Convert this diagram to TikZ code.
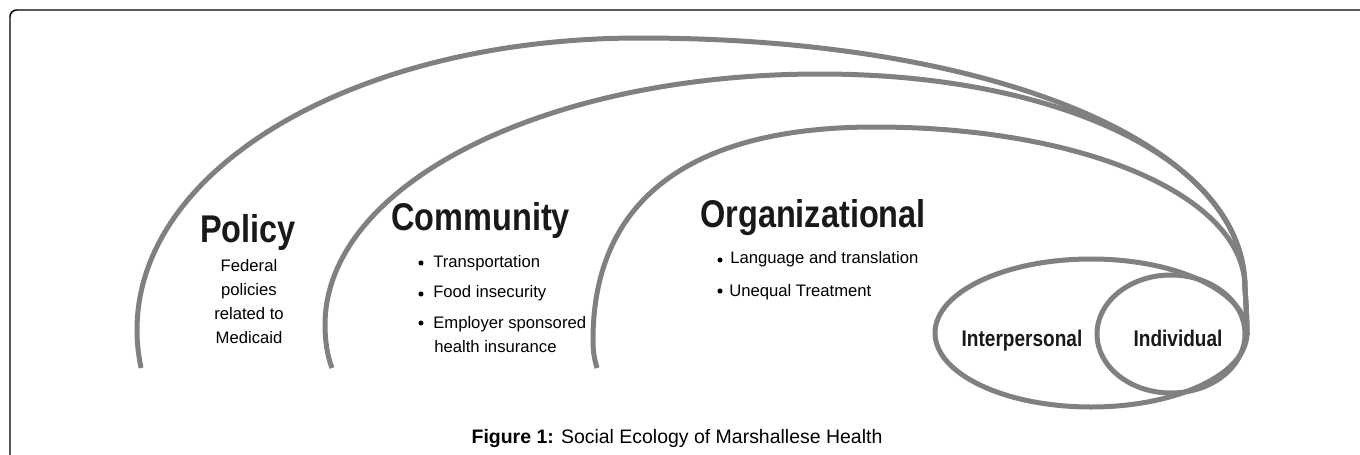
\documentclass[tikz,border=0pt]{standalone}
\usepackage{fontspec}
\setmainfont{Liberation Sans}
\newfontfamily\headfont[FakeStretch=0.84]{Liberation Sans}
\definecolor{arcgray}{RGB}{128,128,128}
\definecolor{txt}{RGB}{25,25,25}
\tikzset{
  ring/.style={draw=arcgray, line width=3.75pt},
  heading/.style={font=\headfont\bfseries\fontsize{29}{32}\selectfont, text=txt, inner sep=0pt},
  inner/.style={font=\headfont\bfseries\fontsize{17}{20}\selectfont, text=txt, inner sep=0pt},
  item/.style={font=\fontsize{12.5}{15}\selectfont, text=black, inner sep=0pt},
  dot/.style={circle, fill=black, inner sep=0pt, minimum size=3.8pt}
}
\begin{document}
\begin{tikzpicture}[x=0.75pt, y=-0.75pt]
\useasboundingbox (0,0) rectangle (1360,454);
% frame
\draw[black, line width=1.1pt, rounded corners=5pt] (10,460) -- (10,10) -- (1370,10);
% named points
\coordinate (R) at (1245,288);
\coordinate (E) at (1247,335);
% policy arc
\draw[ring] (141,368) .. controls (138,352) and (137,342) .. (137,330)
  .. controls (137,166) and (358,38) .. (640,38)
  .. controls (985,38) and (1245,140) .. (R)
  .. controls (1246,305) and (1247,320) .. (E);
% community arc
\draw[ring] (332,368) .. controls (327,355) and (325,340) .. (325,325)
  .. controls (325,185) and (543,74) .. (820,74)
  .. controls (1062,74) and (1245,162) .. (R)
  .. controls (1246,305) and (1247,320) .. (E);
% organizational arc
\draw[ring] (597,368) .. controls (594,358) and (593,350) .. (593,340)
  .. controls (593,200) and (690,127) .. (875,127)
  .. controls (1084,127) and (1245,196) .. (R)
  .. controls (1246,305) and (1247,320) .. (E);
% ellipses
\draw[ring] (1091,333) ellipse [x radius=156, y radius=74];
\draw[ring] (1171,334) ellipse [x radius=74, y radius=59];
% headings
\node[heading, anchor=base] (policy) at (248,242) {Policy};
\node[heading, anchor=base west] (community) at (391,230) {Community};
\node[heading, anchor=base west] (organizational) at (700,227) {Organizational};
\node[inner, anchor=base] (interpersonal) at (1022,346) {Interpersonal};
\node[inner, anchor=base] (individual) at (1178,346) {Individual};
% policy text
\node[item, anchor=base] (p1) at (249,271) {Federal};
\node[item, anchor=base] (p2) at (249,295) {policies};
\node[item, anchor=base] (p3) at (249,319) {related to};
\node[item, anchor=base] (p4) at (249,343) {Medicaid};
% community items
\node[dot] (cb1) at (421,263) {};
\node[item, anchor=base west] (c1) at (433,267) {Transportation};
\node[dot] (cb2) at (421,294) {};
\node[item, anchor=base west] (c2) at (433,297) {Food insecurity};
\node[dot] (cb3) at (421,323) {};
\node[item, anchor=base west] (c3) at (433,328) {Employer sponsored};
\node[item, anchor=base west] (c4) at (434,352) {health insurance};
% organizational items
\node[dot] (ob1) at (720,260) {};
\node[item, anchor=base west] (o1) at (730,263) {Language and translation};
\node[dot] (ob2) at (720,291) {};
\node[item, anchor=base west] (o2) at (729,296) {Unequal Treatment};
% caption
\node[font=\fontsize{14.6}{17}\selectfont, anchor=base, inner sep=0pt] (caption) at (677,443) {\textbf{Figure 1:} Social Ecology of Marshallese Health};
\end{tikzpicture}
\end{document}
